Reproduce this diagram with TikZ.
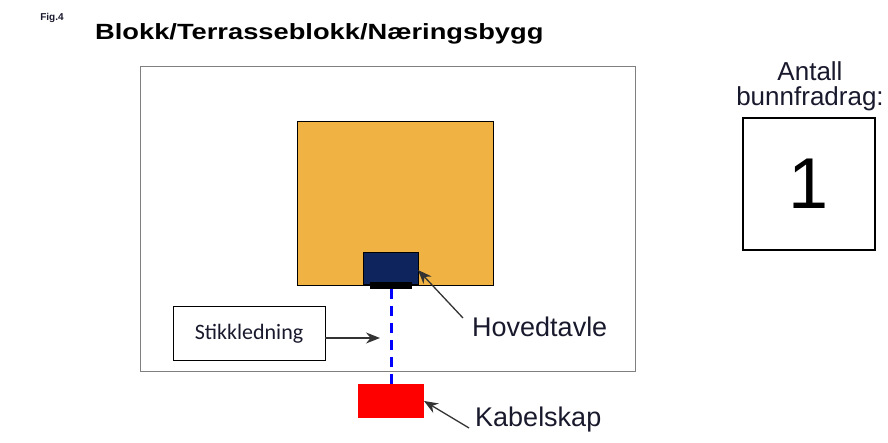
\documentclass[tikz,border=0pt]{standalone}
\usepackage{fontspec}
\usepackage{graphicx}
\usetikzlibrary{positioning, arrows.meta}
\setmainfont{Liberation Sans}
\newfontfamily\calibri{Carlito}
\definecolor{tomt}{RGB}{128,128,128}
\definecolor{bygg}{RGB}{240,178,66}
\definecolor{tavlefarge}{RGB}{13,36,92}
\definecolor{tekst}{RGB}{25,25,45}

\begin{document}
\begin{tikzpicture}[
    x=1pt, y=1pt,
    box/.style={rectangle, draw, inner sep=0pt, outer sep=0pt},
    pointer/.style={-{Stealth[length=14pt, width=11pt]}, line width=1.3pt, draw=black!80},
    label/.style={font=\fontsize{27}{30}\selectfont, text=tekst, inner sep=0pt, anchor=west}
]
\useasboundingbox (0,0) rectangle (888,443);

% overskrift
\node[font=\bfseries\fontsize{10}{11}\selectfont, text=tekst] (fig) at (52,425) {Fig.4};
\node[font=\bfseries\fontsize{22}{24}\selectfont, anchor=west, inner sep=0pt] (title) at (95,409)
    {\scalebox{1.24}[1]{Blokk/Terrasseblokk/Næringsbygg}};

% tomt og bygg
\node[box, draw=tomt, line width=1pt, minimum width=495, minimum height=305] (outer) at (387.5,223.5) {};
\node[box, fill=bygg, line width=1pt, minimum width=196, minimum height=164] (building) at (395,239) {};
\node[box, fill=tavlefarge, line width=1pt, minimum width=55, minimum height=32] (tavle) at (390.5,174) {};
\node[box, fill=black, draw=none, minimum width=42, minimum height=7] (tavlefoot) at (391,157.5) {};
\node[box, fill=red, draw=none, minimum width=66, minimum height=34] (kabelskap) at (391,42) {};

\draw[blue, line width=3pt, dash pattern=on 10pt off 7pt] (tavlefoot.south) -- (kabelskap.north);

% stikkledning
\node[box, line width=1pt, minimum width=152, minimum height=54,
      font=\calibri\fontsize{22}{24}\selectfont, text=tekst] (stikk) at (249,109) {Stikkledning};
\coordinate (stikkend) at (380,105);
\draw[pointer] (stikk.east |- stikkend) -- (stikkend);

% etiketter
\node[label] (tavlelabel) at (472,116) {Hovedtavle};
\node[label] (kabellabel) at (475,23) {Kabelskap};
\coordinate (tavletail) at (463,125);
\coordinate (kabeltail) at (469,15);
\draw[pointer] (tavletail) -- (418,173);
\draw[pointer] (kabeltail) -- (kabelskap.east);

% antall
\node[font=\fontsize{26}{25}\selectfont, align=center, text=tekst] (antall) at (810,357) {Antall\\bunnfradrag:};
\node[box, line width=1.2pt, minimum width=132, minimum height=132,
      font=\fontsize{72}{72}\selectfont] (count) at (809,259) {1};

\end{tikzpicture}
\end{document}
